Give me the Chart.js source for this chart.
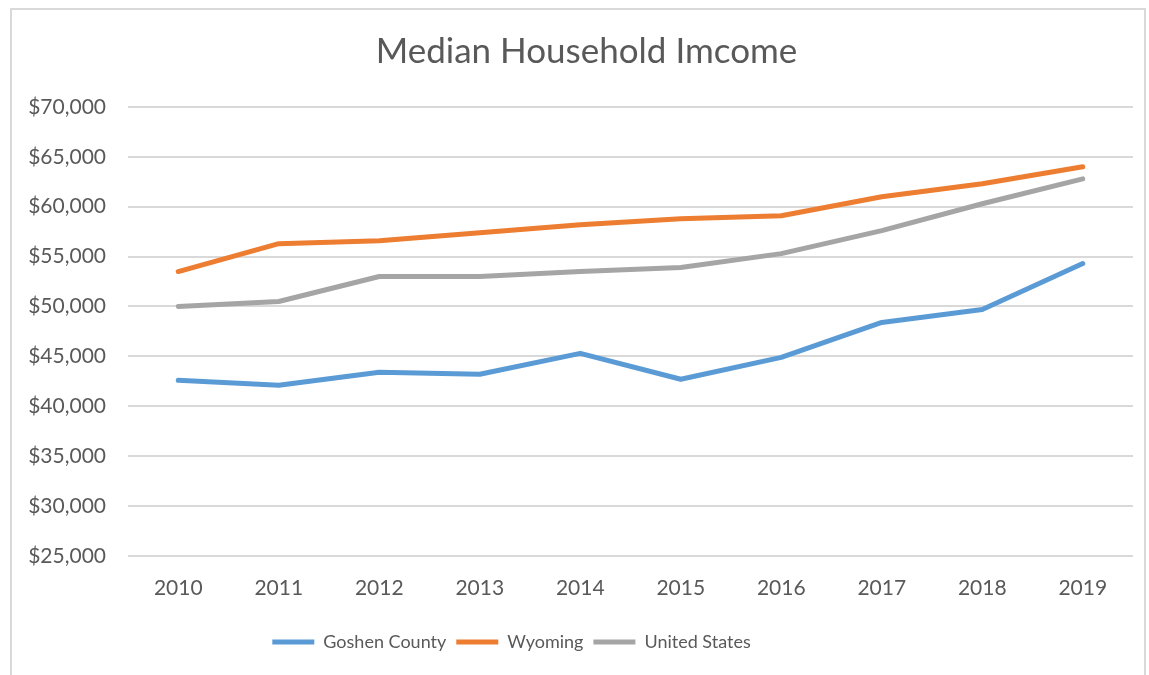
<!DOCTYPE html>
<html>
<head>
<meta charset="utf-8">
<script src="https://cdn.jsdelivr.net/npm/chart.js@4.4.1/dist/chart.umd.min.js"></script>
<style>
  html, body { margin: 0; padding: 0; background: #fff; }
  #frame { position: absolute; left: 10px; top: 8px; width: 1136px; height: 680px; border: 2px solid #D9D9D9; box-sizing: border-box; }
  #wrap { position: absolute; left: 0; top: 0; width: 1149px; height: 675px; }
</style>
</head>
<body>
<div id="frame"></div>
<div id="wrap"><canvas id="c" width="1149" height="675"></canvas></div>
<script>
const years = ['2010','2011','2012','2013','2014','2015','2016','2017','2018','2019'];
const goshen = [42600, 42100, 43400, 43200, 45300, 42700, 44900, 48400, 49700, 54300];
const wyoming = [53500, 56300, 56600, 57400, 58200, 58800, 59100, 61000, 62300, 64000];
const unitedStates = [50000, 50500, 53000, 53000, 53500, 53900, 55300, 57600, 60300, 62800];
const seriesNames = ['Goshen County', 'Wyoming', 'United States'];
const chartTitle = 'Median Household Imcome';

const FONT = 'Lato, "Open Sans", sans-serif';
const TXT = '#595959';

function ds(label, data, color) {
  return { label, data, borderColor: color, backgroundColor: color, borderWidth: 5,
    borderCapStyle: 'round', borderJoinStyle: 'round', pointRadius: 0, pointHoverRadius: 0, tension: 0,
    pointStyle: 'line' };
}

// nudge title and legend to where Excel places them
const boxNudge = {
  id: 'boxNudge',
  afterLayout(chart) {
    const lg = chart.legend;
    if (lg) { lg.left -= 55; lg.right -= 55; lg.top += 10; lg.bottom += 10; }
    const t = chart.titleBlock;
    if (t) { t.left += 20; t.right += 20; }
  }
};

new Chart(document.getElementById('c'), {
  type: 'line',
  data: {
    labels: years,
    datasets: [
      ds(seriesNames[0], goshen, '#5B9BD5'),
      ds(seriesNames[1], wyoming, '#ED7D31'),
      ds(seriesNames[2], unitedStates, '#A5A5A5')
    ]
  },
  plugins: [boxNudge],
  options: {
    responsive: false,
    animation: false,
    layout: { padding: { left: 0, right: 16, top: 31, bottom: 24 } },
    plugins: {
      title: { display: true, text: chartTitle, color: TXT, font: { family: FONT, size: 35, weight: 'normal' }, padding: { top: 0, bottom: 34 } },
      legend: {
        position: 'bottom',
        labels: { color: TXT, font: { family: FONT, size: 18 }, usePointStyle: true, pointStyleWidth: 42, boxHeight: 10, padding: 10 }
      },
      tooltip: { enabled: false }
    },
    scales: {
      x: {
        offset: true,
        grid: { display: false },
        border: { display: false },
        ticks: { color: TXT, font: { family: FONT, size: 21 }, padding: 12 }
      },
      y: {
        min: 25000, max: 70000,
        afterFit: (s) => { s.width = 128; },
        grid: { color: '#D9D9D9', lineWidth: 2, drawTicks: false },
        border: { display: false },
        ticks: { stepSize: 5000, color: TXT, font: { family: FONT, size: 21 }, padding: 22,
          callback: (v) => '$' + v.toLocaleString('en-US') }
      }
    }
  }
});
</script>
</body>
</html>
